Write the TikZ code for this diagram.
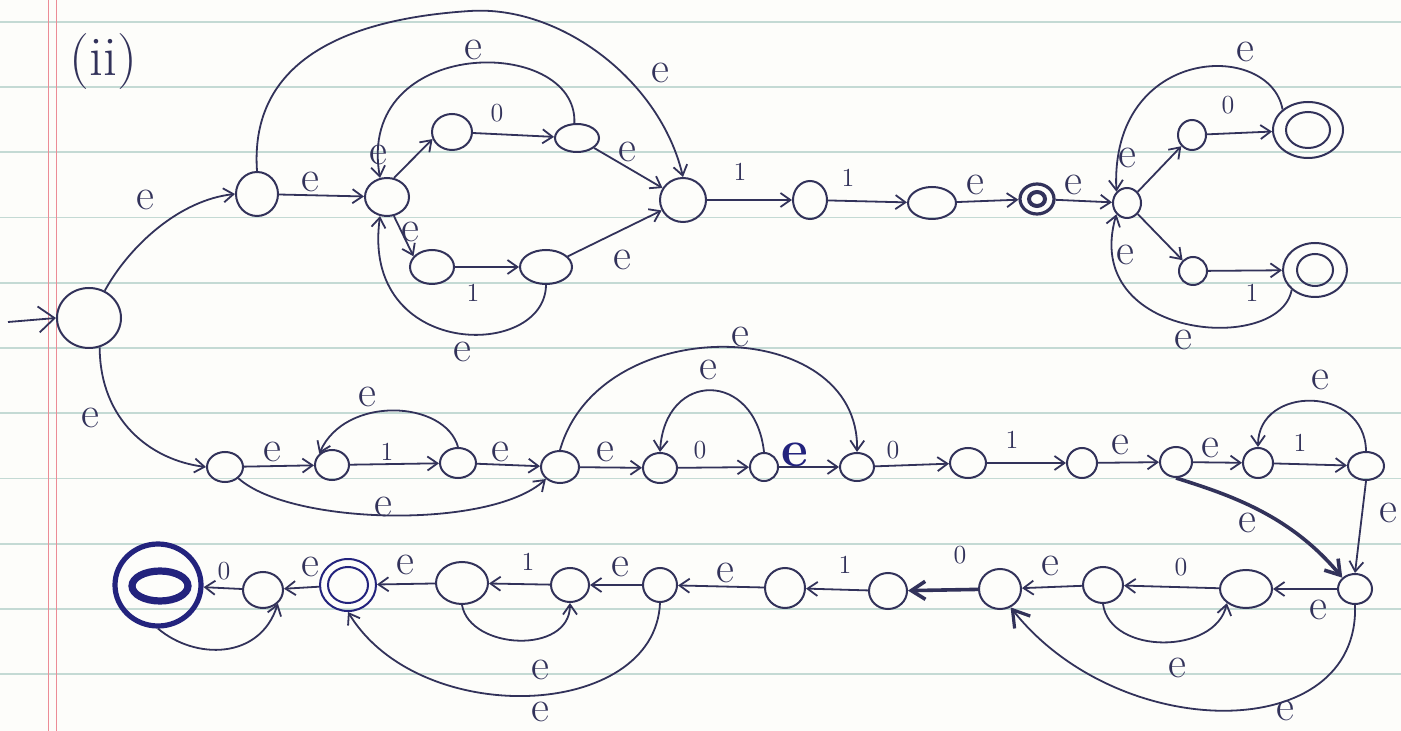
\documentclass[tikz,border=0pt]{standalone}
\usetikzlibrary{arrows.meta,shapes.geometric}
\definecolor{ink}{RGB}{50,50,90}
\definecolor{inkb}{RGB}{35,35,125}
\definecolor{paper}{RGB}{253,253,250}
\definecolor{rulec}{RGB}{196,218,212}
\definecolor{marginc}{RGB}{236,140,150}
\begin{document}
\begin{tikzpicture}[x=0.5pt,y=0.5pt,
  st/.style 2 args={draw=ink,line width=1pt,ellipse,inner sep=0pt,minimum width=#1pt,minimum height=#2pt},
  arr/.style={draw=ink,line width=0.9pt,-{Straight Barb[length=5pt,width=7pt]}},
  thk/.style={line width=1.8pt,-{Straight Barb[length=7pt,width=9pt,line width=1.8pt]}},
  lab/.style={text=ink,font=\fontsize{22}{22}\selectfont,inner sep=0pt},
  dig/.style={text=ink,font=\fontsize{13}{13}\selectfont,inner sep=0pt}]
\fill[paper] (0,0) rectangle (1401,-731);
\useasboundingbox (0,0) rectangle (1401,-731);
\foreach \k in {0,...,10} \draw[rulec,line width=0.9pt] (0,{-22-65.2*\k}) -- (1401,{-22-65.2*\k});
\draw[marginc,line width=0.9pt] (48.5,0) -- (48.5,-731) (56.5,0) -- (56.5,-731);
\node[text=ink,font=\fontsize{28}{28}\selectfont,inner sep=0pt] (title) at (103,-62) {(ii)};
% ---------- row 1 ----------
\node[st={32}{30}] (S0) at (89,-318) {};
\node[st={21}{22}] (A1) at (257,-194) {};
\node[st={22}{19}] (A2) at (387,-197) {};
\node[st={20}{18}] (A3) at (452,-132) {};
\node[st={22}{14}] (A4) at (577,-138) {};
\node[st={22}{17}] (A5) at (432,-267) {};
\node[st={26}{17}] (A6) at (546,-267) {};
\node[st={23}{22}] (A7) at (683,-200) {};
\node[st={17}{19}] (A8) at (810,-200) {};
\node[st={24}{16}] (A9) at (932,-203) {};
\node[st={17}{15},line width=1.6pt] (A10) at (1037,-199) {};
\node[st={8}{7},line width=2pt] (A10i) at (1037,-199) {};
\node[st={14}{15}] (A11) at (1127,-203) {};
\node[st={14}{15}] (A12) at (1192,-135) {};
\node[st={35}{28}] (A13) at (1308,-130) {};
\node[st={22}{18}] (A13i) at (1308,-130) {};
\node[st={14}{14}] (A14) at (1193,-271) {};
\node[st={32}{27}] (A15) at (1315,-270) {};
\node[st={18}{16}] (A15i) at (1315,-270) {};
\coordinate (st) at (8,-322);
\draw[arr,-{Straight Barb[length=8pt,width=13pt]}] (st) -- (S0.west);
\draw[arr] (S0.60) .. controls (130,-245) and (180,-200) .. (A1.west) node[lab] at (145,-200) {e};
\draw[arr] (A1) -- (A2) node[lab] at (310,-182) {e};
\draw[arr] (A1.north) .. controls (250,-70) and (330,-20) .. (470,-11) .. controls (560,-5) and (660,-80) .. (A7.north) node[lab] at (660,-73) {e};
\draw[arr] (A2.70) -- (A3.200) node[lab] at (378,-155) {e};
\draw[arr] (A2.290) -- (A5.150) node[lab] at (410,-232) {e};
\draw[arr] (A3) -- (A4) node[dig] at (497,-113) {0};
\draw[arr] (A4.100) .. controls (578,-35) and (355,-35) .. (A2.110) node[lab] at (473,-50) {e};
\draw[arr] (A4) -- (A7) node[lab] at (627,-152) {e};
\draw[arr] (A5) -- (A6) node[dig] at (473,-293) {1};
\draw[arr] (A6.south) .. controls (545,-360) and (360,-360) .. (A2.250) node[lab] at (462,-352) {e};
\draw[arr] (A6) -- (A7) node[lab] at (622,-260) {e};
\draw[arr] (A7) -- (A8) node[dig] at (740,-172) {1};
\draw[arr] (A8) -- (A9) node[dig] at (848,-178) {1};
\draw[arr] (A9) -- (A10) node[lab] at (975,-185) {e};
\draw[arr] (A10) -- (A11) node[lab] at (1073,-185) {e};
\draw[arr] (A11) -- (A12) node[lab] at (1127,-158) {e};
\draw[arr] (A11) -- (A14) node[lab] at (1125,-255) {e};
\draw[arr] (A12) -- (A13) node[dig] at (1228,-105) {0};
\draw[arr] (A14) -- (A15) node[dig] at (1252,-293) {1};
\draw[arr] (A13.north west) .. controls (1270,-40) and (1110,-45) .. (A11.north west) node[lab] at (1245,-52) {e};
\draw[arr] (A15.south west) .. controls (1280,-355) and (1080,-340) .. (A11.south west) node[lab] at (1183,-340) {e};
% ---------- row 2 ----------
\node[st={18}{15}] (B1) at (225,-467) {};
\node[st={17}{15}] (B2) at (332,-465) {};
\node[st={18}{15}] (B3) at (458,-463) {};
\node[st={19}{16}] (B4) at (560,-467) {};
\node[st={17}{15}] (B5) at (660,-468) {};
\node[st={14}{14}] (B6) at (764,-467) {};
\node[st={17}{14}] (B7) at (857,-467) {};
\node[st={18}{15}] (B8) at (968,-463) {};
\node[st={15}{15}] (B9) at (1082,-463) {};
\node[st={16}{15}] (B10) at (1176,-462) {};
\node[st={15}{15}] (B11) at (1258,-463) {};
\node[st={18}{14}] (B12) at (1366,-466) {};
\draw[arr] (S0.290) .. controls (100,-420) and (150,-460) .. (B1.west) node[lab] at (90,-418) {e};
\draw[arr] (B1) -- (B2) node[lab] at (272,-452) {e};
\draw[arr] (B2) -- (B3) node[dig] at (387,-452) {1};
\draw[arr] (B3.north) .. controls (445,-400) and (345,-395) .. (B2.north west) node[lab] at (367,-397) {e};
\draw[arr] (B1.south east) .. controls (290,-525) and (490,-530) .. (B4.south west) node[lab] at (383,-507) {e};
\draw[arr] (B3) -- (B4) node[lab] at (500,-452) {e};
\draw[arr] (B4) -- (B5) node[lab] at (605,-452) {e};
\draw[arr] (B5) -- (B6) node[dig] at (700,-450) {0};
\draw[arr] (B6.north) .. controls (755,-370) and (665,-370) .. (B5.north) node[lab] at (708,-370) {e};
\draw[arr] (B6) -- (B7) node[lab,text=inkb,font=\fontsize{26}{26}\selectfont\bfseries] at (795,-455) {e};
\draw[arr] (B4.north) .. controls (600,-310) and (860,-315) .. (B7.north) node[lab] at (740,-337) {e};
\draw[arr] (B7) -- (B8) node[dig] at (893,-450) {0};
\draw[arr] (B8) -- (B9) node[dig] at (1012,-440) {1};
\draw[arr] (B9) -- (B10) node[lab] at (1120,-445) {e};
\draw[arr] (B10) -- (B11) node[lab] at (1210,-448) {e};
\draw[arr] (B11) -- (B12) node[dig] at (1300,-443) {1};
\draw[arr] (B12.north) .. controls (1365,-385) and (1258,-385) .. (B11.north) node[lab] at (1320,-380) {e};
% ---------- row 3 ----------
\node[st={17}{15}] (C1) at (1355,-589) {};
\node[st={26}{19}] (C2) at (1246,-589) {};
\node[st={20}{18}] (C3) at (1103,-585) {};
\node[st={21}{20}] (C4) at (1000,-589) {};
\node[st={19}{18}] (C5) at (888,-591) {};
\node[st={20}{20}] (C6) at (785,-588) {};
\node[st={17}{17}] (C7) at (660,-585) {};
\node[st={19}{17}] (C8) at (570,-585) {};
\node[st={26}{21}] (C9) at (462,-583) {};
\node[st={28}{26},draw=inkb] (C10) at (348,-585) {};
\node[st={20}{18},draw=inkb] (C10i) at (348,-585) {};
\node[st={20}{18}] (C11) at (263,-590) {};
\node[st={43}{41},draw=inkb,line width=2.6pt] (C12) at (158,-585) {};
\node[st={28}{15},draw=inkb,line width=3.6pt] (C12i) at (160,-586) {};
\draw[arr,thk] (B10.south) .. controls (1230,-495) and (1290,-515) .. (C1.north west) node[lab] at (1247,-523) {e};
\draw[arr] (B12.south) -- (C1.north) node[lab] at (1388,-513) {e};
\draw[arr] (C1) -- (C2) node[lab] at (1318,-610) {e};
\draw[arr] (C2) -- (C3) node[dig] at (1181,-567) {0};
\draw[arr] (C3.south) .. controls (1110,-655) and (1215,-655) .. (C2.south west) node[lab] at (1177,-668) {e};
\draw[arr] (C3) -- (C4) node[lab] at (1050,-566) {e};
\draw[arr,-{Straight Barb[length=8pt,width=10pt,line width=1.6pt]}] (C1.south) .. controls (1360,-745) and (1120,-745) .. (C4.300) node[lab] at (1285,-711) {e};
\draw[arr,thk] (C4) -- (C5) node[dig] at (960,-555) {0};
\draw[arr] (C5) -- (C6) node[dig] at (845,-565) {1};
\draw[arr] (C6) -- (C7) node[lab] at (725,-573) {e};
\draw[arr] (C7) -- (C8) node[lab] at (620,-567) {e};
\draw[arr] (C8) -- (C9) node[dig] at (528,-562) {1};
\draw[arr] (C9.south) .. controls (470,-650) and (570,-655) .. (C8.south) node[lab] at (540,-670) {e};
\draw[arr] (C7.south) .. controls (655,-720) and (420,-730) .. (C10.south) node[lab] at (540,-712) {e};
\draw[arr] (C9) -- (C10) node[lab] at (405,-565) {e};
\draw[arr] (C10) -- (C11) node[lab] at (310,-567) {e};
\draw[arr] (C11) -- (C12) node[dig] at (224,-571) {0};
\draw[arr] (C12.south) .. controls (195,-660) and (260,-660) .. (C11.south east);
\end{tikzpicture}
\end{document}
